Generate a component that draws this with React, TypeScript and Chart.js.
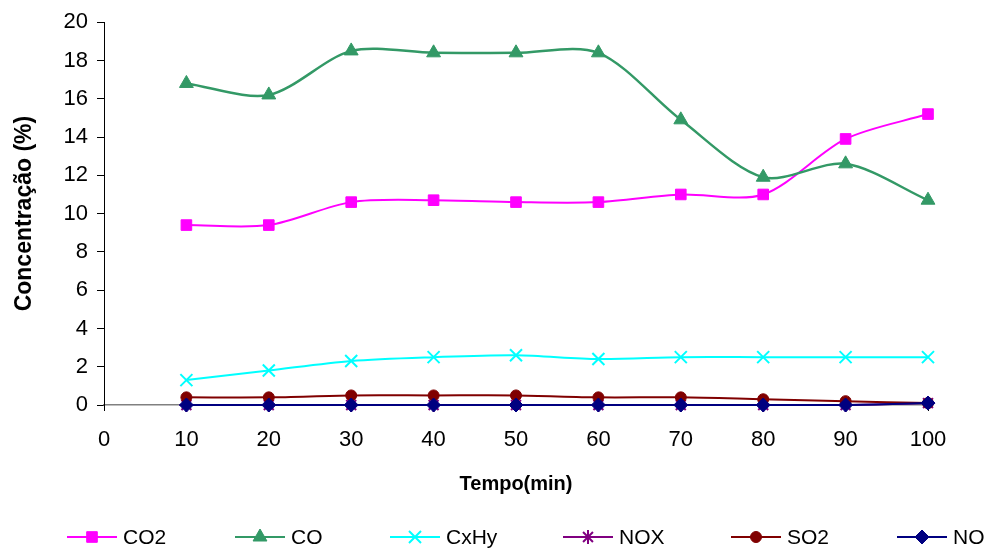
import React, { useEffect, useRef } from "react";
import { Chart, registerables } from "chart.js";
import { drawPoint } from "chart.js/helpers";

Chart.register(...registerables);

const times = [10, 20, 30, 40, 50, 60, 70, 80, 90, 100];
const co2 = [9.4, 9.4, 10.6, 10.7, 10.6, 10.6, 11.0, 11.0, 13.9, 15.2];
const co = [16.8, 16.2, 18.5, 18.4, 18.4, 18.4, 14.9, 11.9, 12.6, 10.7];
const cxhy = [1.3, 1.8, 2.3, 2.5, 2.6, 2.4, 2.5, 2.5, 2.5, 2.5];
const nox = [0, 0, 0, 0, 0, 0, 0, 0, 0, 0.1];
const so2 = [0.4, 0.4, 0.5, 0.5, 0.5, 0.4, 0.4, 0.3, 0.2, 0.1];
const no = [0, 0, 0, 0, 0, 0, 0, 0, 0, 0.1];

const seriesNames = ["CO2", "CO", "CxHy", "NOX", "SO2", "NO"];
const seriesValues = [co2, co, cxhy, nox, so2, no];
const seriesColors = ["#FF00FF", "#339966", "#00FFFF", "#800080", "#800000", "#000080"];
const seriesMarkers = ["rect", "triangle", "crossRot", "star", "circle", "rectRot"];
const markerRadius = [7.5, 8, 8.5, 7, 5.5, 7];

const legendStarts = [67, 235, 390, 563, 731, 897];

const FONT = "'Liberation Sans', Arial, sans-serif";

const legendPlugin = {
  id: "lineLegend",
  afterDraw(chart: any) {
    const ctx = chart.ctx;
    const y = 537;
    chart.data.datasets.forEach((ds: any, i: number) => {
      const x0 = legendStarts[i];
      ctx.save();
      ctx.strokeStyle = ds.borderColor;
      ctx.lineWidth = 2;
      ctx.beginPath();
      ctx.moveTo(x0, y);
      ctx.lineTo(x0 + 50, y);
      ctx.stroke();
      ctx.fillStyle = ds.pointBackgroundColor;
      ctx.strokeStyle = ds.pointBorderColor;
      ctx.lineWidth = ds.pointBorderWidth;
      drawPoint(ctx, { pointStyle: ds.pointStyle, radius: ds.pointRadius, borderWidth: ds.pointBorderWidth, rotation: 0 }, x0 + 25, y);
      ctx.fillStyle = "#000";
      ctx.font = `21px ${FONT}`;
      ctx.textBaseline = "middle";
      ctx.textAlign = "left";
      ctx.fillText(ds.label, x0 + 56, y + 1);
      ctx.restore();
    });
  },
};

export default function App() {
  const ref = useRef<HTMLCanvasElement | null>(null);
  useEffect(() => {
    if (!ref.current) return;
    Chart.defaults.color = "#000";
    const datasets = seriesNames.map((name, i) => ({
      label: name,
      data: times.map((t, j) => ({ x: t, y: seriesValues[i][j] })),
      borderColor: seriesColors[i],
      backgroundColor: seriesColors[i],
      pointBackgroundColor: seriesColors[i],
      pointBorderColor: seriesColors[i],
      pointBorderWidth: seriesMarkers[i] === "crossRot" || seriesMarkers[i] === "star" ? 2 : 1,
      pointStyle: seriesMarkers[i],
      pointRadius: markerRadius[i],
      borderWidth: i === 1 ? 2.5 : 2,
      tension: 0.3,
      fill: false,
      clip: false,
      order: 6 - i,
    }));
    const chart = new Chart(ref.current, {
      type: "line",
      data: { datasets },
      plugins: [legendPlugin],
      options: {
        animation: false,
        responsive: false,
        layout: { padding: { top: 20, right: 63, left: 0, bottom: 49 } },
        plugins: { legend: { display: false }, tooltip: { enabled: false } },
        scales: {
          x: {
            type: "linear",
            min: 0,
            max: 100,
            afterFit(scale: any) {
              scale.height = 95;
            },
            ticks: { stepSize: 10, font: { family: FONT, size: 22 }, padding: 16, color: "#000" },
            grid: { drawOnChartArea: false, drawTicks: true, tickLength: 6, color: "#000" },
            border: { display: true, color: "#808080", width: 1.5 },
            title: {
              display: true,
              text: "Tempo(min)",
              font: { family: FONT, size: 20, weight: "bold" },
              padding: { top: 4, bottom: 4 },
              color: "#000",
            },
          },
          y: {
            min: 0,
            max: 20,
            afterFit(scale: any) {
              scale.width = 104;
            },
            ticks: { stepSize: 2, font: { family: FONT, size: 22 }, padding: 9, color: "#000" },
            grid: { drawOnChartArea: false, drawTicks: true, tickLength: 7, color: "#000" },
            border: { display: true, color: "#000", width: 1 },
            title: {
              display: true,
              text: "Concentração (%)",
              font: { family: FONT, size: 23, weight: "bold" },
              padding: { top: 11, bottom: 0 },
              color: "#000",
            },
          },
        },
      },
    });
    return () => chart.destroy();
  }, []);
  return (
    <div style={{ position: "absolute", left: 0, top: 0, width: 991, height: 549 }}>
      <canvas ref={ref} width={991} height={549} />
    </div>
  );
}
